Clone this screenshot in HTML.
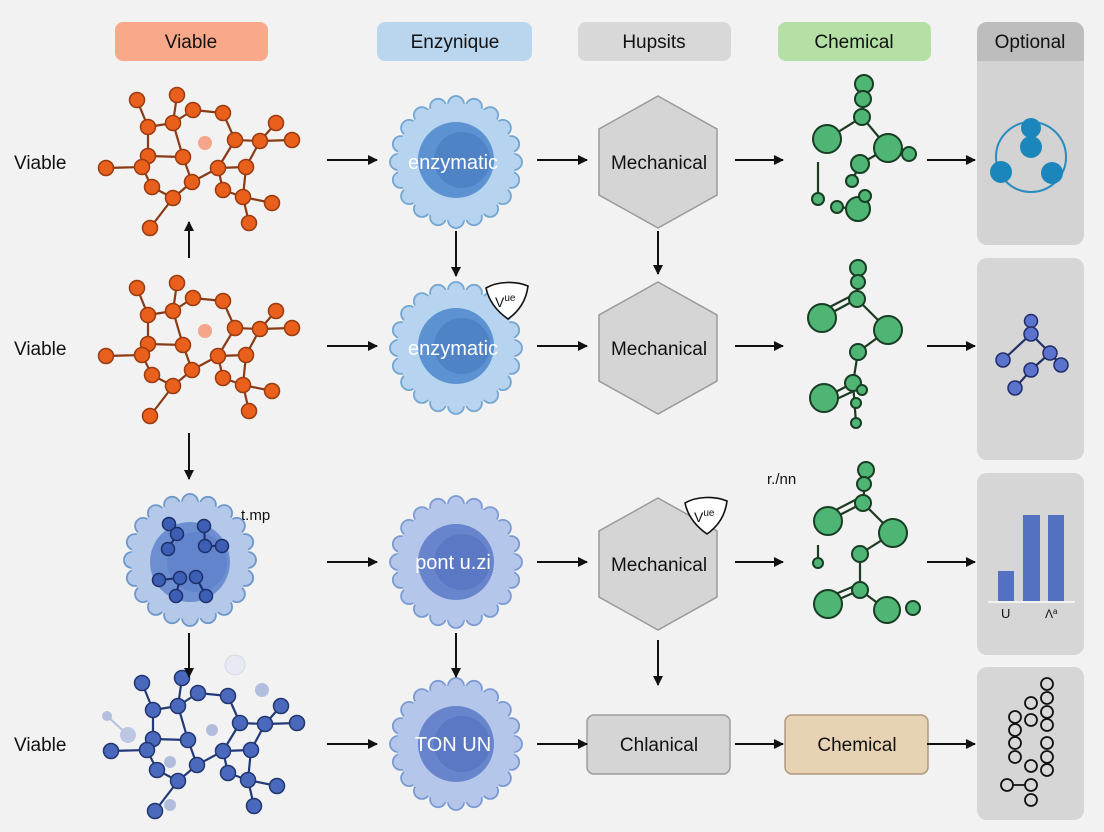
<!DOCTYPE html>
<html><head><meta charset="utf-8"><style>
html,body{margin:0;padding:0;background:#f2f2f2;}
svg{display:block;font-family:"Liberation Sans",sans-serif;}
.e{stroke:var(--e);stroke-width:2.2;}
.n circle{fill:var(--n);stroke:var(--s);stroke-width:1.5;}
.g line{stroke:#1d3a22;stroke-width:2.2;}
.g circle{fill:#4fb574;stroke:#173d23;stroke-width:2;}
</style></head><body>
<svg width="1104" height="832" viewBox="0 0 1104 832" xmlns="http://www.w3.org/2000/svg">
<defs>
<marker id="ah" markerWidth="10" markerHeight="10" refX="9" refY="5" orient="auto" markerUnits="userSpaceOnUse"><path d="M0,0 L10,5 L0,10 z" fill="#111"/></marker>
<g id="cell">
<g>
<circle cx="58" cy="0" r="8"/><circle cx="55.2" cy="17.9" r="8"/><circle cx="46.9" cy="34.1" r="8"/><circle cx="34.1" cy="46.9" r="8"/><circle cx="17.9" cy="55.2" r="8"/>
<circle cx="0" cy="58" r="8"/><circle cx="-17.9" cy="55.2" r="8"/><circle cx="-34.1" cy="46.9" r="8"/><circle cx="-46.9" cy="34.1" r="8"/><circle cx="-55.2" cy="17.9" r="8"/>
<circle cx="-58" cy="0" r="8"/><circle cx="-55.2" cy="-17.9" r="8"/><circle cx="-46.9" cy="-34.1" r="8"/><circle cx="-34.1" cy="-46.9" r="8"/><circle cx="-17.9" cy="-55.2" r="8"/>
<circle cx="0" cy="-58" r="8"/><circle cx="17.9" cy="-55.2" r="8"/><circle cx="34.1" cy="-46.9" r="8"/><circle cx="46.9" cy="-34.1" r="8"/><circle cx="55.2" cy="-17.9" r="8"/>
</g>
<circle r="59" style="stroke:none"/>
</g>
<g id="mol">
<g class="e">
<line x1="137" y1="100" x2="148" y2="127"/><line x1="148" y1="127" x2="173" y2="123"/><line x1="177" y1="95" x2="173" y2="123"/>
<line x1="173" y1="123" x2="193" y2="110"/><line x1="193" y1="110" x2="223" y2="113"/><line x1="223" y1="113" x2="235" y2="140"/>
<line x1="235" y1="140" x2="260" y2="141"/><line x1="260" y1="141" x2="276" y2="123"/><line x1="260" y1="141" x2="292" y2="140"/>
<line x1="148" y1="127" x2="148" y2="156"/><line x1="148" y1="156" x2="183" y2="157"/><line x1="173" y1="123" x2="183" y2="157"/>
<line x1="183" y1="157" x2="192" y2="182"/><line x1="148" y1="156" x2="142" y2="167"/><line x1="106" y1="168" x2="142" y2="167"/>
<line x1="142" y1="167" x2="152" y2="187"/><line x1="152" y1="187" x2="173" y2="198"/><line x1="173" y1="198" x2="192" y2="182"/>
<line x1="173" y1="198" x2="150" y2="228"/><line x1="192" y1="182" x2="218" y2="168"/><line x1="218" y1="168" x2="235" y2="140"/>
<line x1="218" y1="168" x2="246" y2="167"/><line x1="246" y1="167" x2="260" y2="141"/><line x1="218" y1="168" x2="223" y2="190"/>
<line x1="223" y1="190" x2="243" y2="197"/><line x1="246" y1="167" x2="243" y2="197"/><line x1="243" y1="197" x2="272" y2="203"/>
<line x1="243" y1="197" x2="249" y2="223"/>
</g>
<g class="n">
<circle cx="137" cy="100" r="7.5"/><circle cx="177" cy="95" r="7.5"/><circle cx="148" cy="127" r="7.5"/><circle cx="173" cy="123" r="7.5"/>
<circle cx="193" cy="110" r="7.5"/><circle cx="223" cy="113" r="7.5"/><circle cx="235" cy="140" r="7.5"/><circle cx="260" cy="141" r="7.5"/>
<circle cx="276" cy="123" r="7.5"/><circle cx="292" cy="140" r="7.5"/><circle cx="148" cy="156" r="7.5"/><circle cx="183" cy="157" r="7.5"/>
<circle cx="192" cy="182" r="7.5"/><circle cx="142" cy="167" r="7.5"/><circle cx="106" cy="168" r="7.5"/><circle cx="152" cy="187" r="7.5"/>
<circle cx="173" cy="198" r="7.5"/><circle cx="150" cy="228" r="7.5"/><circle cx="218" cy="168" r="7.5"/><circle cx="246" cy="167" r="7.5"/>
<circle cx="223" cy="190" r="7.5"/><circle cx="243" cy="197" r="7.5"/><circle cx="272" cy="203" r="7.5"/><circle cx="249" cy="223" r="7.5"/>
</g>
</g>
<g id="hex"><polygon points="0,-66 59,-33 59,33 0,66 -59,33 -59,-33" fill="#d5d5d5" stroke="#9a9a9a" stroke-width="1.5"/></g>
<g id="badge"><path d="M-20,-12 C-8,-19 10,-19 22,-14 C20,2 12,12 2,19 C-8,12 -17,2 -20,-12 z" fill="#fff" stroke="#111" stroke-width="1.6"/></g>
</defs>

<rect x="0" y="0" width="1104" height="832" rx="14" fill="#f2f2f2"/>

<rect x="977" y="22" width="107" height="223" rx="10" fill="#d3d3d3"/>
<path d="M977,61 V32 a10,10 0 0 1 10,-10 H1074 a10,10 0 0 1 10,10 V61 z" fill="#bdbdbd"/>
<rect x="977" y="258" width="107" height="202" rx="10" fill="#d6d6d6"/>
<rect x="977" y="473" width="107" height="182" rx="10" fill="#d6d6d6"/>
<rect x="977" y="667" width="107" height="153" rx="10" fill="#d6d6d6"/>

<rect x="115" y="22" width="153" height="39" rx="8" fill="#f9a88a"/>
<rect x="377" y="22" width="155" height="39" rx="8" fill="#bad5ee"/>
<rect x="578" y="22" width="153" height="39" rx="8" fill="#d8d8d8"/>
<rect x="778" y="22" width="153" height="39" rx="8" fill="#b4e0a6"/>
<g font-size="19" fill="#111" text-anchor="middle">
<text x="191" y="48">Viable</text>
<text x="455" y="48">Enzynique</text>
<text x="654" y="48">Hupsits</text>
<text x="854" y="48">Chemical</text>
<text x="1030" y="48">Optional</text>
</g>

<g font-size="19" fill="#111">
<text x="14" y="169">Viable</text>
<text x="14" y="355">Viable</text>
<text x="14" y="751">Viable</text>
</g>

<use href="#mol" style="--e:#8a3a14;--n:#e8601c;--s:#9a3a10"/>
<circle cx="205" cy="143" r="7" fill="#f4a58a"/>
<use href="#mol" transform="translate(0,188)" style="--e:#8a3a14;--n:#e8601c;--s:#9a3a10"/>
<circle cx="205" cy="331" r="7" fill="#f4a58a"/>

<g opacity="0.55">
<line x1="107" y1="716" x2="128" y2="735" stroke="#8096cc" stroke-width="2"/>
<circle cx="107" cy="716" r="5" fill="#8096cc"/><circle cx="128" cy="735" r="8" fill="#8fa4d8"/>
<circle cx="235" cy="665" r="10" fill="#dfe5f3" stroke="#b9c3de"/>
<circle cx="262" cy="690" r="7" fill="#7f93cf"/>
<circle cx="170" cy="805" r="6" fill="#7f93cf"/>
<circle cx="212" cy="730" r="6" fill="#7f93cf"/>
<circle cx="170" cy="762" r="6" fill="#7f93cf"/>
</g>
<use href="#mol" transform="translate(5,583)" style="--e:#233a7a;--n:#4a68bc;--s:#22366f"/>

<use href="#cell" transform="translate(190,560)" fill="#b4c8ea" stroke="#6e98c9" stroke-width="1.8"/>
<circle cx="190" cy="562" r="40" fill="#6d8fd2"/>
<circle cx="197" cy="562" r="30" fill="#6284cc"/>
<g class="e" style="--e:#1f3472">
<line x1="169" y1="524" x2="177" y2="534"/><line x1="177" y1="534" x2="168" y2="549"/>
<line x1="204" y1="526" x2="205" y2="546"/><line x1="205" y1="546" x2="222" y2="546"/>
<line x1="159" y1="580" x2="180" y2="578"/><line x1="180" y1="578" x2="176" y2="596"/><line x1="196" y1="577" x2="206" y2="596"/>
</g>
<g class="n" style="--n:#3c5fb5;--s:#1d2f66">
<circle cx="169" cy="524" r="6.5"/><circle cx="177" cy="534" r="6.5"/><circle cx="168" cy="549" r="6.5"/>
<circle cx="204" cy="526" r="6.5"/><circle cx="205" cy="546" r="6.5"/><circle cx="222" cy="546" r="6.5"/>
<circle cx="159" cy="580" r="6.5"/><circle cx="180" cy="578" r="6.5"/><circle cx="176" cy="596" r="6.5"/>
<circle cx="196" cy="577" r="6.5"/><circle cx="206" cy="596" r="6.5"/>
</g>
<text x="241" y="520" font-size="15" fill="#111">t.mp</text>

<use href="#cell" transform="translate(456,162)" fill="#b6d3ef" stroke="#74a6d2" stroke-width="1.8"/>
<circle cx="456" cy="160" r="38" fill="#5c92d1"/><circle cx="462" cy="160" r="28" fill="#4f83c6"/>
<use href="#cell" transform="translate(456,348)" fill="#b6d3ef" stroke="#74a6d2" stroke-width="1.8"/>
<circle cx="456" cy="346" r="38" fill="#5c92d1"/><circle cx="462" cy="346" r="28" fill="#4f83c6"/>
<use href="#cell" transform="translate(456,562)" fill="#b4c6ea" stroke="#7b9bd2" stroke-width="1.8"/>
<circle cx="456" cy="562" r="38" fill="#6884cc"/><circle cx="462" cy="562" r="28" fill="#5b78c4"/>
<use href="#cell" transform="translate(456,744)" fill="#b4c6ea" stroke="#7b9bd2" stroke-width="1.8"/>
<circle cx="456" cy="744" r="38" fill="#6884cc"/><circle cx="462" cy="744" r="28" fill="#5b78c4"/>
<g font-size="20" fill="#fff" text-anchor="middle">
<text x="453" y="169">enzymatic</text>
<text x="453" y="355">enzymatic</text>
<text x="453" y="569">pont u.zi</text>
<text x="453" y="751">TON UN</text>
</g>
<use href="#badge" transform="translate(506,300)"/>
<text x="495" y="307" font-size="14" fill="#111">V<tspan font-size="10" dy="-6">ue</tspan></text>

<use href="#hex" transform="translate(658,162)"/>
<use href="#hex" transform="translate(658,348)"/>
<use href="#hex" transform="translate(658,564)"/>
<use href="#badge" transform="translate(705,515)"/>
<text x="694" y="522" font-size="14" fill="#111">V<tspan font-size="10" dy="-6">ue</tspan></text>
<g font-size="19" fill="#111" text-anchor="middle">
<text x="659" y="169">Mechanical</text>
<text x="659" y="355">Mechanical</text>
<text x="659" y="571">Mechanical</text>
</g>

<rect x="587" y="715" width="143" height="59" rx="7" fill="#d5d5d5" stroke="#9d9d9d" stroke-width="1.5"/>
<rect x="785" y="715" width="143" height="59" rx="7" fill="#e7d3b4" stroke="#b09a7c" stroke-width="1.5"/>
<g font-size="19" fill="#111" text-anchor="middle">
<text x="659" y="751">Chlanical</text>
<text x="857" y="751">Chemical</text>
</g>

<g class="g">
<line x1="864" y1="84" x2="862" y2="117"/><line x1="862" y1="117" x2="827" y2="139"/><line x1="862" y1="117" x2="888" y2="148"/>
<line x1="888" y1="148" x2="860" y2="164"/><line x1="860" y1="164" x2="852" y2="181"/><line x1="818" y1="162" x2="818" y2="199"/>
<line x1="858" y1="209" x2="837" y2="207"/>
<circle cx="864" cy="84" r="9"/><circle cx="863" cy="99" r="8"/><circle cx="862" cy="117" r="8"/>
<circle cx="827" cy="139" r="14"/><circle cx="909" cy="154" r="7"/><circle cx="888" cy="148" r="14"/>
<circle cx="860" cy="164" r="9"/><circle cx="852" cy="181" r="6"/><circle cx="818" cy="199" r="6"/>
<circle cx="837" cy="207" r="6"/><circle cx="858" cy="209" r="12"/><circle cx="865" cy="196" r="6"/>
</g>
<g class="g">
<line x1="858" y1="268" x2="857" y2="299"/><line x1="857" y1="299" x2="822" y2="318"/><line x1="853" y1="295" x2="820" y2="312"/>
<line x1="857" y1="299" x2="888" y2="330"/><line x1="888" y1="330" x2="858" y2="352"/><line x1="858" y1="352" x2="853" y2="383"/>
<line x1="853" y1="383" x2="824" y2="398"/><line x1="856" y1="390" x2="826" y2="404"/><line x1="853" y1="383" x2="856" y2="423"/>
<circle cx="858" cy="268" r="8"/><circle cx="858" cy="282" r="7"/><circle cx="857" cy="299" r="8"/>
<circle cx="822" cy="318" r="14"/><circle cx="888" cy="330" r="14"/><circle cx="858" cy="352" r="8"/>
<circle cx="853" cy="383" r="8"/><circle cx="862" cy="390" r="5"/><circle cx="824" cy="398" r="14"/>
<circle cx="856" cy="403" r="5"/><circle cx="856" cy="423" r="5"/>
</g>
<g class="g">
<line x1="866" y1="470" x2="863" y2="503"/><line x1="863" y1="503" x2="828" y2="521"/><line x1="859" y1="498" x2="826" y2="515"/>
<line x1="863" y1="503" x2="893" y2="533"/><line x1="893" y1="533" x2="860" y2="554"/><line x1="860" y1="554" x2="860" y2="590"/>
<line x1="818" y1="545" x2="818" y2="563"/><line x1="860" y1="590" x2="828" y2="604"/><line x1="857" y1="585" x2="826" y2="598"/>
<line x1="860" y1="590" x2="887" y2="610"/>
<circle cx="866" cy="470" r="8"/><circle cx="864" cy="484" r="7"/><circle cx="863" cy="503" r="8"/>
<circle cx="828" cy="521" r="14"/><circle cx="893" cy="533" r="14"/><circle cx="860" cy="554" r="8"/>
<circle cx="818" cy="563" r="5"/><circle cx="860" cy="590" r="8"/><circle cx="828" cy="604" r="14"/>
<circle cx="913" cy="608" r="7"/><circle cx="887" cy="610" r="13"/>
</g>
<text x="767" y="484" font-size="15" fill="#111">r./nn</text>

<circle cx="1031" cy="157" r="35" fill="none" stroke="#2a8cbf" stroke-width="2"/>
<g fill="#1a86bb"><circle cx="1031" cy="128" r="10"/><circle cx="1031" cy="147" r="11"/><circle cx="1001" cy="172" r="11"/><circle cx="1052" cy="173" r="11"/></g>
<g class="e" style="--e:#22306a">
<line x1="1031" y1="321" x2="1031" y2="334"/><line x1="1031" y1="334" x2="1003" y2="360"/><line x1="1031" y1="334" x2="1050" y2="353"/>
<line x1="1050" y1="353" x2="1061" y2="365"/><line x1="1050" y1="353" x2="1031" y2="370"/><line x1="1031" y1="370" x2="1015" y2="388"/>
</g>
<g class="n" style="--n:#5b73cc;--s:#1f2c66">
<circle cx="1031" cy="321" r="6.5"/><circle cx="1031" cy="334" r="7"/><circle cx="1003" cy="360" r="7"/><circle cx="1050" cy="353" r="7"/>
<circle cx="1061" cy="365" r="7"/><circle cx="1031" cy="370" r="7"/><circle cx="1015" cy="388" r="7"/>
</g>
<g fill="#5470c0"><rect x="998" y="571" width="16" height="30"/><rect x="1023" y="515" width="17" height="86"/><rect x="1048" y="515" width="16" height="86"/></g>
<line x1="988" y1="602" x2="1075" y2="602" stroke="#f2f2f2" stroke-width="2"/>
<text x="1001" y="618" font-size="13" fill="#111">U</text>
<text x="1045" y="618" font-size="12" fill="#111">Λ<tspan font-size="8" dy="-4">a</tspan></text>
<g fill="#d9d9d9" stroke="#111" stroke-width="1.8">
<line x1="1007" y1="785" x2="1031" y2="785"/>
<circle cx="1047" cy="684" r="6"/><circle cx="1047" cy="698" r="6"/><circle cx="1047" cy="712" r="6"/><circle cx="1047" cy="725" r="6"/>
<circle cx="1047" cy="743" r="6"/><circle cx="1047" cy="757" r="6"/><circle cx="1047" cy="770" r="6"/>
<circle cx="1015" cy="717" r="6"/><circle cx="1015" cy="730" r="6"/><circle cx="1015" cy="743" r="6"/><circle cx="1015" cy="757" r="6"/>
<circle cx="1031" cy="703" r="6"/><circle cx="1031" cy="720" r="6"/><circle cx="1031" cy="766" r="6"/>
<circle cx="1007" cy="785" r="6"/><circle cx="1031" cy="785" r="6"/><circle cx="1031" cy="800" r="6"/>
</g>

<g stroke="#111" stroke-width="2" marker-end="url(#ah)">
<line x1="327" y1="160" x2="377" y2="160"/><line x1="537" y1="160" x2="587" y2="160"/><line x1="735" y1="160" x2="783" y2="160"/><line x1="927" y1="160" x2="975" y2="160"/>
<line x1="327" y1="346" x2="377" y2="346"/><line x1="537" y1="346" x2="587" y2="346"/><line x1="735" y1="346" x2="783" y2="346"/><line x1="927" y1="346" x2="975" y2="346"/>
<line x1="327" y1="562" x2="377" y2="562"/><line x1="537" y1="562" x2="587" y2="562"/><line x1="735" y1="562" x2="783" y2="562"/><line x1="927" y1="562" x2="975" y2="562"/>
<line x1="327" y1="744" x2="377" y2="744"/><line x1="537" y1="744" x2="587" y2="744"/><line x1="735" y1="744" x2="783" y2="744"/><line x1="927" y1="744" x2="975" y2="744"/>
<line x1="189" y1="258" x2="189" y2="222"/>
<line x1="189" y1="433" x2="189" y2="479"/>
<line x1="189" y1="633" x2="189" y2="677"/>
<line x1="456" y1="231" x2="456" y2="276"/>
<line x1="456" y1="633" x2="456" y2="677"/>
<line x1="658" y1="231" x2="658" y2="274"/>
<line x1="658" y1="640" x2="658" y2="685"/>
</g>
</svg>
</body></html>
